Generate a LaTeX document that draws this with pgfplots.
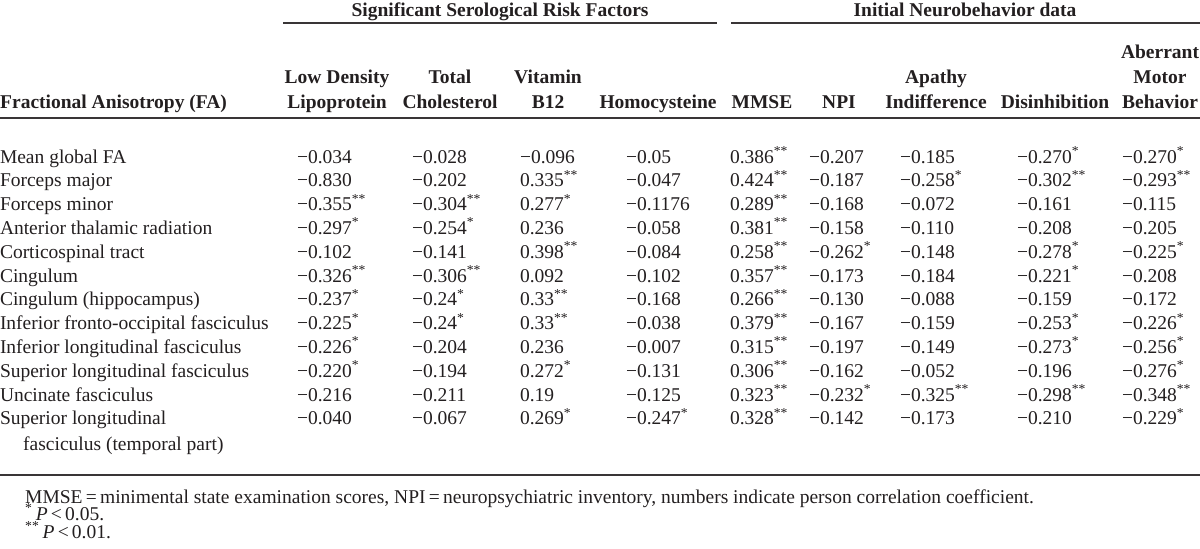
\documentclass[border=0pt]{standalone}
\usepackage{pgfplots}
\usepackage{pgfplotstable}
\pgfplotsset{compat=1.18}
\usepackage{fontspec}
\setmainfont{Liberation Serif}
\definecolor{ink}{HTML}{231F20}
\newcommand\tabfont{\fontsize{19.5}{23}\selectfont}
\protected\def\sa{\textsuperscript{*}}
\protected\def\sb{\textsuperscript{**}}

\pgfplotstableread[col sep=comma]{
r,label,LDL,TC,B12,Hcy,MMSE,NPI,AI,Dis,AMB
0,Mean global FA,−0.034,−0.028,−0.096,−0.05,0.386\sb,−0.207,−0.185,−0.270\sa,−0.270\sa
1,Forceps major,−0.830,−0.202,0.335\sb,−0.047,0.424\sb,−0.187,−0.258\sa,−0.302\sb,−0.293\sb
2,Forceps minor,−0.355\sb,−0.304\sb,0.277\sa,−0.1176,0.289\sb,−0.168,−0.072,−0.161,−0.115
3,Anterior thalamic radiation,−0.297\sa,−0.254\sa,0.236,−0.058,0.381\sb,−0.158,−0.110,−0.208,−0.205
4,Corticospinal tract,−0.102,−0.141,0.398\sb,−0.084,0.258\sb,−0.262\sa,−0.148,−0.278\sa,−0.225\sa
5,Cingulum,−0.326\sb,−0.306\sb,0.092,−0.102,0.357\sb,−0.173,−0.184,−0.221\sa,−0.208
6,Cingulum (hippocampus),−0.237\sa,−0.24\sa,0.33\sb,−0.168,0.266\sb,−0.130,−0.088,−0.159,−0.172
7,Inferior fronto-occipital fasciculus,−0.225\sa,−0.24\sa,0.33\sb,−0.038,0.379\sb,−0.167,−0.159,−0.253\sa,−0.226\sa
8,Inferior longitudinal fasciculus,−0.226\sa,−0.204,0.236,−0.007,0.315\sb,−0.197,−0.149,−0.273\sa,−0.256\sa
9,Superior longitudinal fasciculus,−0.220\sa,−0.194,0.272\sa,−0.131,0.306\sb,−0.162,−0.052,−0.196,−0.276\sa
10,Uncinate fasciculus,−0.216,−0.211,0.19,−0.125,0.323\sb,−0.232\sa,−0.325\sb,−0.298\sb,−0.348\sb
11,Superior longitudinal,−0.040,−0.067,0.269\sa,−0.247\sa,0.328\sb,−0.142,−0.173,−0.210,−0.229\sa
}\tbl

\begin{document}
\tabfont
\begin{tikzpicture}[every node/.append style={font=\tabfont, text=ink}]
\begin{axis}[name=ax, scale only axis, width=1200pt, height=549pt,
  xmin=0, xmax=1200, ymin=0, ymax=549, y dir=reverse,
  hide axis, clip=false,
  point meta=explicit symbolic,
  every node near coord/.append style={anchor=base west, inner sep=0pt, outer sep=0pt, font=\tabfont, text=ink},
]
% row labels
\addplot[draw=none, mark=none, nodes near coords] table[x expr=0, y expr={163+23.8*\thisrow{r}}, meta=label] {\tbl};
% data columns
\addplot[draw=none, mark=none, nodes near coords] table[x expr=297, y expr={163+23.8*\thisrow{r}}, meta=LDL] {\tbl};
\addplot[draw=none, mark=none, nodes near coords] table[x expr=412, y expr={163+23.8*\thisrow{r}}, meta=TC] {\tbl};
\addplot[draw=none, mark=none, nodes near coords] table[x expr=520, y expr={163+23.8*\thisrow{r}}, meta=B12] {\tbl};
\addplot[draw=none, mark=none, nodes near coords] table[x expr=626, y expr={163+23.8*\thisrow{r}}, meta=Hcy] {\tbl};
\addplot[draw=none, mark=none, nodes near coords] table[x expr=730, y expr={163+23.8*\thisrow{r}}, meta=MMSE] {\tbl};
\addplot[draw=none, mark=none, nodes near coords] table[x expr=809, y expr={163+23.8*\thisrow{r}}, meta=NPI] {\tbl};
\addplot[draw=none, mark=none, nodes near coords] table[x expr=900, y expr={163+23.8*\thisrow{r}}, meta=AI] {\tbl};
\addplot[draw=none, mark=none, nodes near coords] table[x expr=1017, y expr={163+23.8*\thisrow{r}}, meta=Dis] {\tbl};
\addplot[draw=none, mark=none, nodes near coords] table[x expr=1122, y expr={163+23.8*\thisrow{r}}, meta=AMB] {\tbl};

\node[anchor=base west, inner sep=0pt] at (axis cs:23,450) {fasciculus (temporal part)};

% group headers
\node[anchor=base, inner sep=0pt, font=\tabfont\bfseries] at (axis cs:500,16) {Significant Serological Risk Factors};
\node[anchor=base, inner sep=0pt, font=\tabfont\bfseries] at (axis cs:965,16) {Initial Neurobehavior data};
\draw[line width=1.5pt, ink!90] (axis cs:283,23) -- (axis cs:717,23);
\draw[line width=1.5pt, ink!90] (axis cs:731,23) -- (axis cs:1200,23);

% column headers
\begin{scope}[every node/.append style={anchor=base, inner sep=0pt, font=\tabfont\bfseries}]
\node[anchor=base west] at (axis cs:0,108) {Fractional Anisotropy (FA)};
\node at (axis cs:337,83) {Low Density};
\node at (axis cs:337,108) {Lipoprotein};
\node at (axis cs:450,83) {Total};
\node at (axis cs:450,108) {Cholesterol};
\node at (axis cs:548,83) {Vitamin};
\node at (axis cs:548,108) {B12};
\node at (axis cs:658,108) {Homocysteine};
\node at (axis cs:762,108) {MMSE};
\node at (axis cs:839,108) {NPI};
\node at (axis cs:936,83) {Apathy};
\node at (axis cs:936,108) {Indifference};
\node at (axis cs:1055,108) {Disinhibition};
\node at (axis cs:1160,58) {Aberrant};
\node at (axis cs:1160,83) {Motor};
\node at (axis cs:1160,108) {Behavior};
\end{scope}

\draw[line width=2pt, ink!90] (axis cs:0,118) -- (axis cs:1200,118);
\draw[line width=2pt, ink!90] (axis cs:0,475) -- (axis cs:1200,475);

% footnotes
\node[anchor=base west, inner sep=0pt] at (axis cs:25,503) {MMSE\,=\,minimental state examination scores, NPI\,=\,neuropsychiatric inventory, numbers indicate person correlation coefficient.};
\node[anchor=base west, inner sep=0pt] at (axis cs:25,520.5) {\textsuperscript{*}\,\textit{P}\,<\,0.05.};
\node[anchor=base west, inner sep=0pt] at (axis cs:25,538) {\textsuperscript{**}\,\textit{P}\,<\,0.01.};
\end{axis}
\pgfresetboundingbox
\path[use as bounding box] (ax.south west) rectangle (ax.north east);
\end{tikzpicture}
\end{document}
